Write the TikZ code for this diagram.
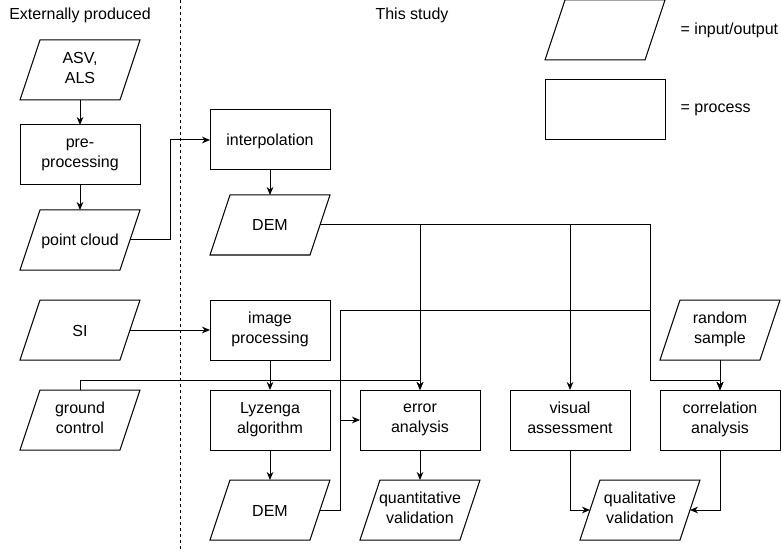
\documentclass[tikz,border=0pt]{standalone}
\usepackage{fontspec}
\setmainfont{Liberation Sans}
\usetikzlibrary{arrows.meta}

\begin{document}
\begin{tikzpicture}[x=0.75pt, y=-0.75pt, >={Stealth[length=6pt,width=5pt]},
    every node/.style={font=\fontsize{12}{15}\selectfont},
    box/.style={minimum width=90pt, minimum height=45pt, align=center, inner sep=0pt,
        outer sep=0pt, execute at begin node=\rule{0pt}{12pt},
        execute at end node=\rule[-3pt]{0pt}{3pt}},
    proc/.style={box, draw, line width=0.75pt},
    io/.style={box, append after command={\pgfextra{\let\ionode\tikzlastnode
        \draw [line width=0.75pt] ([xshift=15pt]\ionode.north west) -- (\ionode.north east)
            -- ([xshift=-15pt]\ionode.south east) -- (\ionode.south west) -- cycle;}}},
    arr/.style={line width=0.75pt, ->},
    wire/.style={line width=0.75pt}]
    \useasboundingbox (0,0) rectangle (781,552);

    % Headings and separator
    \node (hext) at (80,15) {Externally produced};
    \node (hstudy) at (412,15) {This study};
    \draw [wire, dash pattern=on 2.25pt off 2.25pt] (180,0) -- (180,552);

    % Externally produced
    \node [io] (asv) at (80,70) {ASV,\\ALS};
    \node [proc] (prep) at (80,155) {pre-\\processing};
    \node [io] (pc) at (80,240) {point cloud};
    \node [io] (si) at (80,330) {SI};
    \node [io] (gc) at (80,420) {ground\\control};

    % This study
    \node [proc] (interp) at (270,140) {interpolation};
    \node [io] (dem1) at (270,225) {DEM};
    \node [proc] (improc) at (270,330) {image\\processing};
    \node [proc] (lyz) at (270,420) {Lyzenga\\algorithm};
    \node [io] (dem2) at (270,510) {DEM};
    \node [proc] (err) at (420,420) {error\\analysis};
    \node [io] (quant) at (420,510) {quantitative\\validation};
    \node [proc] (vis) at (570,420) {visual\\assessment};
    \node [io] (rand) at (720,330) {random\\sample};
    \node [proc] (corr) at (720,420) {correlation\\analysis};
    \node [io] (qual) at (640,510) {qualitative\\validation};

    % Legend
    \node [io] (legio) at (605,30) {};
    \node [proc] (legproc) at (605,110) {};
    \node [anchor=west] (legiotext) at (676,30) {= input/output};
    \node [anchor=west] (legproctext) at (676,110) {= process};

    % Side midpoints of the slanted boxes, bus points
    \coordinate (pc-r) at ([xshift=-7.5pt]pc.east);
    \coordinate (si-r) at ([xshift=-7.5pt]si.east);
    \coordinate (dem1-r) at ([xshift=-7.5pt]dem1.east);
    \coordinate (dem2-r) at ([xshift=-7.5pt]dem2.east);
    \coordinate (qual-l) at ([xshift=7.5pt]qual.west);
    \coordinate (qual-r) at ([xshift=-7.5pt]qual.east);
    \coordinate (bus) at (650,380);
    \coordinate (dtop) at (340,310);

    % Connectors
    \draw [arr] (asv) -- (prep);
    \draw [arr] (prep) -- (pc);
    \draw [arr] (pc-r) -- ++(40,0) |- (interp.west);
    \draw [arr] (interp) -- (dem1);
    \draw [arr] (si-r) -- (improc.west);
    \draw [arr] (improc) -- (lyz);
    \draw [arr] (lyz) -- (dem2);
    \draw [arr] (dem1-r) -| (err.north);
    \draw [arr] (dem1-r) -| (vis.north);
    \draw [arr] (dem1-r) -| (bus) -| (corr.north);
    \draw [arr] (dem2-r) -| (dtop) -- (dtop -| bus) -- (bus) -| (corr.north);
    \draw [arr] (dtop |- err.west) -- (err.west);
    \draw [arr] (gc.north) -- ++(0,-10) -| (err.north);
    \draw [arr] (err) -- (quant);
    \draw [arr] (rand) -- (corr);
    \draw [arr] (vis.south) |- (qual-l);
    \draw [arr] (corr.south) |- (qual-r);
\end{tikzpicture}
\end{document}
